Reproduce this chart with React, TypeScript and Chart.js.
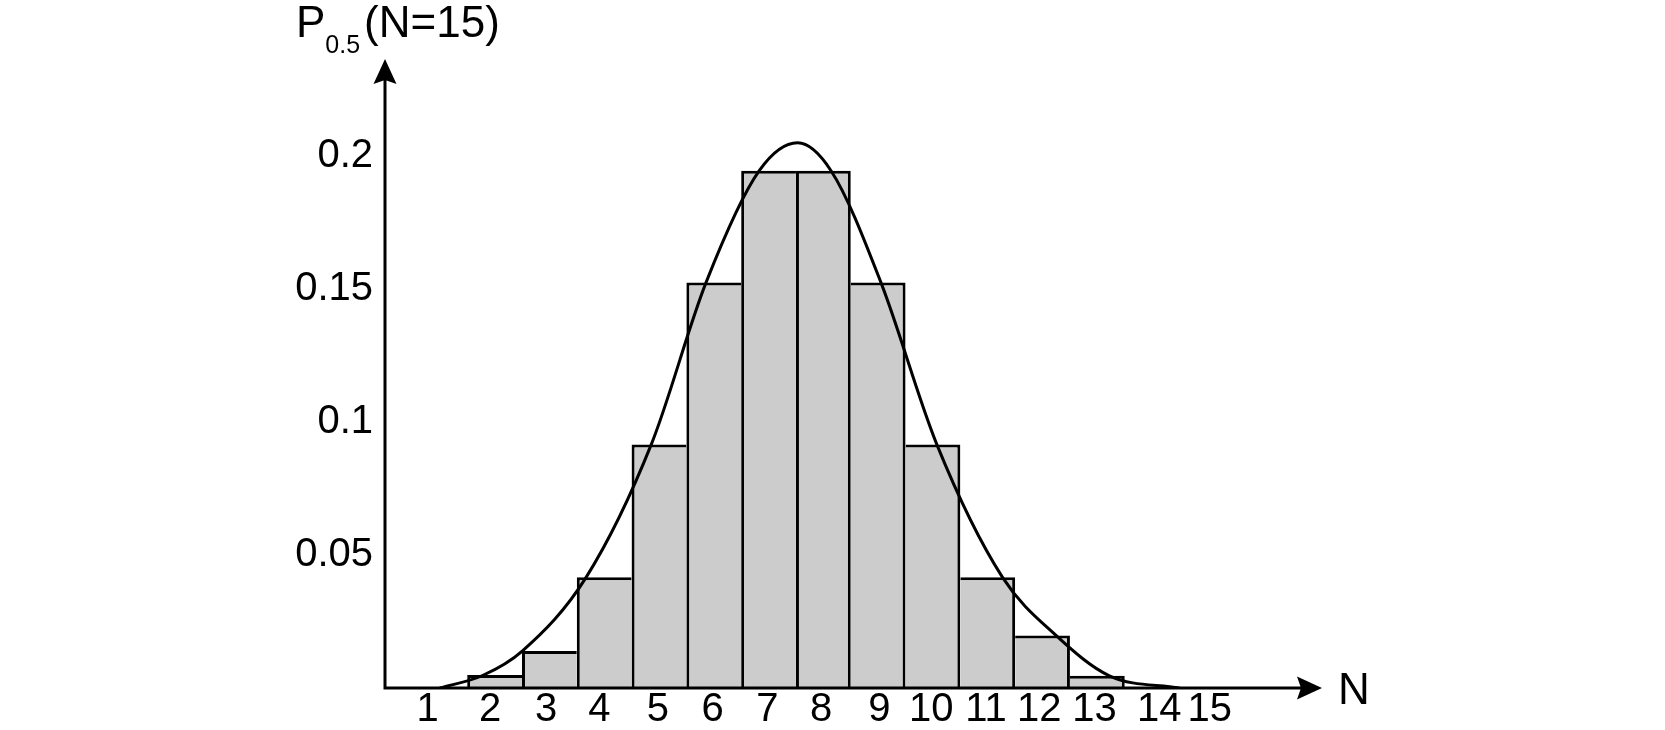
import React, { useEffect, useRef } from 'react';
import { Chart, registerables } from 'chart.js';

Chart.register(...registerables);

// ---- data ----
const barPositions = [2, 3, 4, 5, 6, 7, 8, 9, 10, 11, 12, 13];
const barValues = [0.0049, 0.0139, 0.0416, 0.0916, 0.1525, 0.1945, 0.1945, 0.1525, 0.0916, 0.0416, 0.0197, 0.0046];

const curveX = [1.0, 1.78, 2.51, 3.67, 4.86, 5.86, 6.83, 7.53, 8.14, 9.05, 10.07, 11.27, 12.25, 13.22, 14.5];
const curveY = [0, 0.0047, 0.014, 0.0416, 0.0916, 0.1525, 0.1945, 0.205, 0.1945, 0.1525, 0.0916, 0.0416, 0.0197, 0.0046, 0];

const xTickPositions = [0.78, 1.92, 2.94, 3.91, 4.98, 5.98, 6.98, 7.96, 9.02, 9.97, 10.97, 11.94, 12.95, 14.13, 15.05];
const xTickLabels = ['1', '2', '3', '4', '5', '6', '7', '8', '9', '10', '11', '12', '13', '14', '15'];
const yTickValues = [0.05, 0.1, 0.15, 0.2];
const yTickLabels = ['0.05', '0.1', '0.15', '0.2'];

const xMin = 0;
const xMax = 17.1;
const yMin = 0;
const yMax = 0.2365;

const yTitleMain = 'P';
const yTitleSub = '0.5';
const yTitleRest = '(N=15)';
const xTitle = 'N';

const FONT = "'Liberation Sans', Arial, Helvetica, sans-serif";
const LW = 3;

const minDiff = (arr: number[]) => {
  let m = Infinity;
  for (let i = 1; i < arr.length; i++) {
    const d = Math.abs(arr[i] - arr[i - 1]);
    if (d > 0) m = Math.min(m, d);
  }
  return m;
};

const axesPlugin = {
  id: 'arrowAxes',
  afterDatasetsDraw(chart: any) {
    const { ctx } = chart;
    const x = chart.scales.x;
    const y = chart.scales.y;
    const ox = x.getPixelForValue(xMin);
    const oy = y.getPixelForValue(yMin);
    const tipX = x.getPixelForValue(xMax);
    const tipY = y.getPixelForValue(yMax);
    const L = 25;
    const W = 11.5;
    const N = 4;
    ctx.save();
    ctx.strokeStyle = '#000';
    ctx.fillStyle = '#000';
    ctx.lineWidth = LW;
    ctx.lineJoin = 'miter';
    ctx.beginPath();
    ctx.moveTo(ox, tipY + L - N);
    ctx.lineTo(ox, oy);
    ctx.lineTo(tipX - L + N, oy);
    ctx.stroke();
    // x arrow head
    ctx.beginPath();
    ctx.moveTo(tipX, oy);
    ctx.lineTo(tipX - L, oy - W);
    ctx.lineTo(tipX - L + N, oy);
    ctx.lineTo(tipX - L, oy + W);
    ctx.closePath();
    ctx.fill();
    // y arrow head
    ctx.beginPath();
    ctx.moveTo(ox, tipY);
    ctx.lineTo(ox - W, tipY + L);
    ctx.lineTo(ox, tipY + L - N);
    ctx.lineTo(ox + W, tipY + L);
    ctx.closePath();
    ctx.fill();

    // y axis title with subscript
    ctx.textAlign = 'left';
    ctx.textBaseline = 'alphabetic';
    ctx.font = `44px ${FONT}`;
    let px = ox - 89;
    const py = tipY - 22;
    ctx.fillText(yTitleMain, px, py);
    px += ctx.measureText(yTitleMain).width;
    ctx.font = `25px ${FONT}`;
    ctx.fillText(yTitleSub, px, py + 15.5);
    px += ctx.measureText(yTitleSub).width + 4;
    ctx.font = `44px ${FONT}`;
    ctx.fillText(yTitleRest, px, py);

    // x axis title
    ctx.fillText(xTitle, tipX + 16, oy + 16);
    ctx.restore();
  },
};

export default function App() {
  const ref = useRef<HTMLCanvasElement>(null);

  useEffect(() => {
    const last = barPositions.length - 1;
    const bw = LW;
    // Chart.js sizes bars from the smallest gap among data points and among ticks
    // (checked separately); scale so each bar fills exactly one step.
    const step = minDiff(barPositions);
    const rulerMin = Math.min(step, minDiff(xTickPositions));
    const barPct = step / rulerMin;

    const chart = new Chart(ref.current as HTMLCanvasElement, {
      type: 'bar',
      data: {
        datasets: [
          {
            type: 'line',
            data: curveX.map((v, i) => ({ x: v, y: curveY[i] })),
            borderColor: '#000',
            borderWidth: LW,
            pointRadius: 0,
            cubicInterpolationMode: 'monotone',
            fill: false,
            order: 0,
          } as any,
          {
            type: 'bar',
            data: barPositions.map((v, i) => ({ x: v, y: barValues[i] })),
            backgroundColor: '#cccccc',
            borderColor: '#000',
            borderWidth: (c: any) => {
              const i = c.dataIndex;
              const left = i === 0 || barValues[i] >= barValues[i - 1] ? bw : 0;
              const right = i === last || barValues[i] > barValues[i + 1] ? bw : 0;
              return { top: bw, left, right, bottom: 0 };
            },
            barPercentage: barPct,
            categoryPercentage: 1,
            inflateAmount: 0,
            order: 1,
          } as any,
        ],
      },
      options: {
        responsive: false,
        maintainAspectRatio: false,
        animation: false,
        devicePixelRatio: 1,
        layout: { padding: { left: 0, right: 343, top: 59, bottom: 0 } },
        plugins: {
          legend: { display: false },
          tooltip: { enabled: false },
          title: { display: false },
        },
        scales: {
          x: {
            type: 'linear',
            min: xMin,
            max: xMax,
            offset: false,
            grid: { display: false, drawTicks: false },
            border: { display: false },
            afterBuildTicks: (s: any) => {
              s.ticks = xTickPositions.map((v) => ({ value: v }));
            },
            afterFit: (s: any) => {
              s.height = 42;
            },
            ticks: {
              autoSkip: false,
              maxRotation: 0,
              minRotation: 0,
              padding: 2,
              color: '#000',
              font: { family: FONT, size: 40, lineHeight: 1 },
              callback: (_v: any, i: number) => xTickLabels[i],
            },
          },
          y: {
            type: 'linear',
            min: yMin,
            max: yMax,
            grid: { display: false, drawTicks: false },
            border: { display: false },
            afterBuildTicks: (s: any) => {
              s.ticks = yTickValues.map((v) => ({ value: v }));
            },
            afterFit: (s: any) => {
              s.width = 385;
            },
            ticks: {
              padding: 12,
              color: '#000',
              font: { family: FONT, size: 40, lineHeight: 1 },
              callback: (_v: any, i: number) => yTickLabels[i],
            },
          },
        },
      } as any,
      plugins: [axesPlugin],
    });
    return () => chart.destroy();
  }, []);

  return (
    <div style={{ position: 'absolute', left: 0, top: 0, width: 1665, height: 730, background: '#fff' }}>
      <canvas ref={ref} width={1665} height={730} style={{ display: 'block' }} />
    </div>
  );
}
